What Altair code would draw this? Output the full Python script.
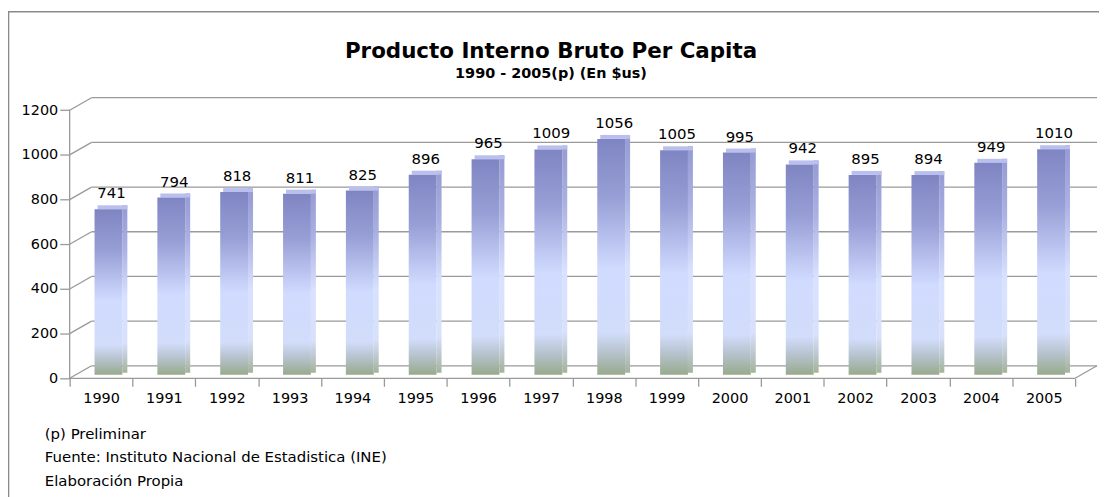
import json
import altair as alt
import pandas as pd

# ---------------- data ----------------
years = ["1990", "1991", "1992", "1993", "1994", "1995", "1996", "1997",
         "1998", "1999", "2000", "2001", "2002", "2003", "2004", "2005"]
values = [741, 794, 818, 811, 825, 896, 965, 1009, 1056, 1005, 995, 942, 895, 894, 949, 1010]
grid_values = [0, 200, 400, 600, 800, 1000, 1200]
title_text = "Producto Interno Bruto Per Capita"
subtitle_text = "1990 - 2005(p) (En $us)"
notes = ["(p) Preliminar",
         "Fuente: Instituto Nacional de Estadistica (INE)",
         "Elaboración Propia"]

# ---------------- layout constants ----------------
N = len(years)
DEPTH_X = 0.348          # 3-D depth, in category units
DEPTH_Y = 56             # 3-D depth, in value units
XMAX = N + DEPTH_X
YMAX = 1251
W, H = 1033, 281
CAT_PX = W / XMAX
FONT = "DejaVu Sans"
GRID_COLOR = "#9a9a9a"

bars_df = pd.DataFrame({"year": years, "value": values, "idx": list(range(N))})
bars_df["x0"] = bars_df["idx"]
bars_df["x1"] = bars_df["idx"] + 1
grid_df = pd.DataFrame({"v": grid_values})
one = pd.DataFrame({"a": [0]})

xscale = alt.Scale(domain=[0, XMAX], nice=False, zero=False)
yscale = alt.Scale(domain=[0, YMAX], nice=False, zero=False)

x_axis = alt.Axis(values=list(range(N + 1)), tickSize=8, tickColor=GRID_COLOR, tickWidth=1.3,
                  labelOffset=CAT_PX / 2, labelPadding=5, domain=False, grid=False, title=None,
                  labelFont=FONT, labelFontSize=14.5, labelColor="#000000",
                  labelOverlap=False, labelFlush=False, labelBound=False,
                  labelExpr=json.dumps(years) + "[datum.value] || ''")
y_axis = alt.Axis(values=grid_values, format="d", tickSize=10, tickColor=GRID_COLOR, tickWidth=1.3,
                  labelPadding=2, domain=False, grid=False, title=None,
                  labelFont=FONT, labelFontSize=14.5, labelColor="#000000",
                  labelOverlap=False, labelFlush=False, labelBound=False)


def X(field=None, datum=None):
    if datum is not None:
        return alt.XDatum(datum, type="quantitative", scale=xscale, axis=x_axis)
    return alt.X(field, type="quantitative", scale=xscale, axis=x_axis)


def Y(field=None, datum=None):
    if datum is not None:
        return alt.YDatum(datum, type="quantitative", scale=yscale, axis=y_axis)
    return alt.Y(field, type="quantitative", scale=yscale, axis=y_axis)


rule_style = dict(color=GRID_COLOR, strokeWidth=1.3)

# frame around the whole chart (top and left edges; the others run off the page)
frame_top = alt.Chart(one).mark_rule(color="#8a8a8a", strokeWidth=1.6).encode(
    x=alt.value(-62), x2=alt.value(1100), y=alt.value(-87.5))
frame_left = alt.Chart(one).mark_rule(color="#8a8a8a", strokeWidth=1.6).encode(
    x=alt.value(-61.5), y=alt.value(-88), y2=alt.value(500))

# back-wall gridlines
back = alt.Chart(grid_df).transform_calculate(yb=f"datum.v + {DEPTH_Y}").mark_rule(**rule_style).encode(
    x=X(datum=DEPTH_X), x2=alt.X2Datum(XMAX), y=Y("yb"))
# side-wall diagonals
diag = alt.Chart(grid_df).transform_calculate(yb=f"datum.v + {DEPTH_Y}").mark_rule(**rule_style).encode(
    x=X(datum=0), x2=alt.X2Datum(DEPTH_X), y=Y("v"), y2=alt.Y2("yb:Q"))
# front value axis line
yline = alt.Chart(one).mark_rule(**rule_style).encode(
    x=X(datum=0), y=Y(datum=0), y2=alt.Y2Datum(max(grid_values)))
# front category axis line
xline = alt.Chart(one).mark_rule(**rule_style).encode(
    x=X(datum=0), x2=alt.X2Datum(N), y=Y(datum=0))
# right floor diagonal
rdiag = alt.Chart(one).mark_rule(**rule_style).encode(
    x=X(datum=N), x2=alt.X2Datum(XMAX), y=Y(datum=0), y2=alt.Y2Datum(DEPTH_Y))

front_grad = alt.Gradient(gradient="linear", x1=0, y1=0, x2=0, y2=1, stops=[
    alt.GradientStop(offset=0, color="#7f85c2"),
    alt.GradientStop(offset=0.25, color="#989fd6"),
    alt.GradientStop(offset=0.55, color="#d0dbff"),
    alt.GradientStop(offset=0.82, color="#d2ddfb"),
    alt.GradientStop(offset=0.90, color="#b8c4d0"),
    alt.GradientStop(offset=1, color="#97aa8c"),
])
side_grad = alt.Gradient(gradient="linear", x1=0, y1=0, x2=0, y2=1, stops=[
    alt.GradientStop(offset=0, color="#959bd3"),
    alt.GradientStop(offset=0.25, color="#a9b0e2"),
    alt.GradientStop(offset=0.55, color="#d8e1ff"),
    alt.GradientStop(offset=0.82, color="#d8e1fb"),
    alt.GradientStop(offset=0.90, color="#c0cbd4"),
    alt.GradientStop(offset=1, color="#a3b398"),
])

bar_base = alt.Chart(bars_df)
side = bar_base.mark_bar(color=side_grad, xOffset=53, x2Offset=-(CAT_PX - 58),
                         yOffset=-7.5, y2Offset=-5.5).encode(
    x=X("x0"), x2=alt.X2("x1:Q"), y=Y("value"), y2=alt.Y2Datum(0))
top = bar_base.mark_bar(color="#b9bfee", xOffset=28, x2Offset=-(CAT_PX - 58),
                        yOffset=-7.5, y2Offset=-3.5).encode(
    x=X("x0"), x2=alt.X2("x1:Q"), y=Y("value"), y2=alt.Y2("value:Q"))
front = bar_base.mark_bar(color=front_grad, xOffset=25, x2Offset=-(CAT_PX - 53),
                          yOffset=-3.5, y2Offset=-3.5).encode(
    x=X("x0"), x2=alt.X2("x1:Q"), y=Y("value"), y2=alt.Y2Datum(0))
labels = bar_base.mark_text(font=FONT, fontSize=15, color="#000000", align="center",
                            baseline="alphabetic", dx=42, dy=-14.5).encode(
    x=X("x0"), y=Y("value"), text=alt.Text("value:Q", format="d"))

title = alt.Chart(one).mark_text(font=FONT, fontSize=21.5, fontWeight="bold", color="#000000",
                                 align="center", baseline="alphabetic").encode(
    x=alt.value(484), y=alt.value(-41), text=alt.value(title_text))
subtitle = alt.Chart(one).mark_text(font=FONT, fontSize=14.5, fontWeight="bold", color="#000000",
                                    align="center", baseline="alphabetic").encode(
    x=alt.value(484), y=alt.value(-21), text=alt.value(subtitle_text))

note_layers = []
for i, note in enumerate(notes):
    note_layers.append(alt.Chart(one).mark_text(font=FONT, fontSize=15, color="#000000",
                                                align="left", baseline="alphabetic").encode(
        x=alt.value(-25), y=alt.value(342 + i * 23.5), text=alt.value(note)))

chart = alt.layer(frame_top, frame_left, back, diag, yline, xline, rdiag, side, top, front, labels,
                  title, subtitle, *note_layers).properties(
    width=W, height=H,
    autosize=alt.AutoSizeParams(type="none"),
    padding={"left": 62, "top": 90, "right": 2, "bottom": 118},
    background="white",
).configure_view(stroke=None)

chart.save("out.html", embed_options={"renderer": "svg", "actions": False})
